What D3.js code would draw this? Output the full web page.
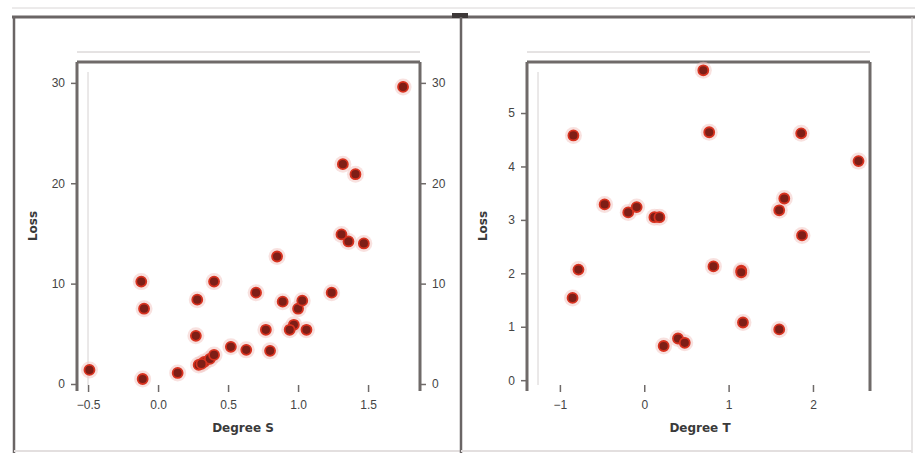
<!DOCTYPE html>
<html>
<head>
<meta charset="utf-8">
<script src="https://cdn.jsdelivr.net/npm/d3@7"></script>
<style>
  html, body { margin: 0; padding: 0; background: #ffffff; }
  svg { display: block; font-family: "DejaVu Sans", sans-serif; }
</style>
</head>
<body>
<svg id="chart" width="915" height="453"></svg>
<script>
// Left panel: Loss against Degree S
const leftX = [-0.49, -0.11, 0.14, -0.12, -0.10, 0.40, 0.28, 0.70, 0.27, 0.29, 0.33, 0.37, 0.40, 0.31,
               0.52, 0.63, 0.80, 0.77, 0.89, 1.00, 1.03, 1.06, 0.97, 0.94, 0.85, 1.36, 1.47, 1.24, 1.31,
               1.41, 1.32, 1.75];
const leftY = [1.4, 0.5, 1.1, 10.2, 7.5, 10.2, 8.4, 9.1, 4.8, 1.9, 2.2, 2.5, 2.9, 2.0,
               3.7, 3.4, 3.3, 5.4, 8.2, 7.5, 8.3, 5.4, 5.9, 5.4, 12.7, 14.2, 14.0, 9.1, 14.9,
               20.9, 21.9, 29.6];
const leftXTicks = [-0.5, 0.0, 0.5, 1.0, 1.5];
const leftYTicks = [0, 10, 20, 30];

// Right panel: Loss against Degree T
const rightX = [-0.84, -0.85, -0.78, -0.47, -0.19, -0.09, 0.12, 0.18, 0.23, 0.40,
                0.48, 0.70, 0.77, 0.82, 1.15, 1.15, 1.17, 1.60, 1.66, 1.60, 1.86, 1.87, 2.54];
const rightY = [4.58, 1.54, 2.07, 3.29, 3.14, 3.24, 3.05, 3.05, 0.64, 0.78,
                0.70, 5.80, 4.64, 2.13, 2.05, 2.02, 1.08, 3.18, 3.40, 0.95, 4.62, 2.71, 4.10];
const rightXTicks = [-1, 0, 1, 2];
const rightYTicks = [0, 1, 2, 3, 4, 5];

const panels = [
  { xs: leftX, ys: leftY, xTicks: leftXTicks, yTicks: leftYTicks,
    xDomain: [-0.579, 1.871], yDomain: [-0.1, 32.08],
    x0: 77, x1: 420, y0: 62, y1: 385, frameX: 14, frameW: 447,
    xTitle: "Degree S", yTitle: "Loss", mirror: true, titleX: 243, titleY: 226,
    xFmt: d3.format(".1f"), yFmt: d3.format("d") },
  { xs: rightX, ys: rightY, xTicks: rightXTicks, yTicks: rightYTicks,
    xDomain: [-1.39, 2.676], yDomain: [-0.09, 5.955],
    x0: 527, x1: 870, y0: 62, y1: 385, frameX: 461, frameW: 451,
    xTitle: "Degree T", yTitle: "Loss", mirror: false, titleX: 700, titleY: 226,
    xFmt: d3.format("d"), yFmt: d3.format("d") }
];

const svg = d3.select("#chart");
const axisGrey = "#6f6a69";

// outer frame and top rule
svg.append("line").attr("x1", 12).attr("x2", 915).attr("y1", 8).attr("y2", 8)
  .attr("stroke", "#d9d6d6").attr("stroke-width", 1);
svg.append("line").attr("x1", 12).attr("x2", 915).attr("y1", 17).attr("y2", 17)
  .attr("stroke", "#6a6565").attr("stroke-width", 3);
svg.append("rect").attr("x", 452).attr("y", 13).attr("width", 16).attr("height", 5).attr("fill", "#3d3838");

panels.forEach(p => {
  const g = svg.append("g");
  // panel borders
  g.append("line").attr("x1", p.frameX).attr("x2", p.frameX).attr("y1", 17).attr("y2", 453)
    .attr("stroke", "#6a6565").attr("stroke-width", 2.5);
  g.append("line").attr("x1", p.frameX + p.frameW).attr("x2", p.frameX + p.frameW).attr("y1", 17).attr("y2", 453)
    .attr("stroke", "#cfcbcb").attr("stroke-width", 1);
  g.append("line").attr("x1", p.frameX).attr("x2", p.frameX + p.frameW).attr("y1", 451).attr("y2", 451)
    .attr("stroke", "#e3dfdf").attr("stroke-width", 2);

  const x = d3.scaleLinear().domain(p.xDomain).range([p.x0, p.x1]);
  const y = d3.scaleLinear().domain(p.yDomain).range([p.y1, p.y0]);

  // top double rule
  g.append("line").attr("x1", p.x0).attr("x2", p.x1).attr("y1", p.y0 - 10).attr("y2", p.y0 - 10)
    .attr("stroke", "#cbc6c6").attr("stroke-width", 1);
  g.append("line").attr("x1", p.x0).attr("x2", p.x1).attr("y1", p.y0).attr("y2", p.y0)
    .attr("stroke", axisGrey).attr("stroke-width", 3);

  // left axis
  const yAxis = d3.axisLeft(y).tickValues(p.yTicks).tickFormat(p.yFmt).tickSize(6).tickPadding(6);
  const ya = g.append("g").attr("transform", `translate(${p.x0},0)`).call(yAxis);
  ya.select(".domain").remove();
  g.append("line").attr("x1", p.x0).attr("x2", p.x0).attr("y1", p.y0).attr("y2", p.y1 + 6)
    .attr("stroke", axisGrey).attr("stroke-width", 3);
  g.append("line").attr("x1", p.x0 + 11).attr("x2", p.x0 + 11).attr("y1", p.y0 + 10).attr("y2", p.y1)
    .attr("stroke", "#d6d2d2").attr("stroke-width", 1);

  // right axis
  g.append("line").attr("x1", p.x1).attr("x2", p.x1).attr("y1", p.y0).attr("y2", p.y1 + 6)
    .attr("stroke", axisGrey).attr("stroke-width", 3);
  let yr = null;
  if (p.mirror) {
    yr = g.append("g").attr("transform", `translate(${p.x1},0)`)
      .call(d3.axisRight(y).tickValues(p.yTicks).tickFormat(p.yFmt).tickSize(6).tickPadding(6));
    yr.select(".domain").remove();
  }

  // bottom axis (ticks only)
  const xa = g.append("g").attr("transform", `translate(0,${p.y1})`)
    .call(d3.axisBottom(x).tickValues(p.xTicks).tickFormat(p.xFmt).tickSize(7).tickPadding(8));
  xa.select(".domain").remove();

  [ya, xa, yr].filter(Boolean).forEach(a => {
    a.selectAll(".tick line").attr("stroke", axisGrey).attr("stroke-width", 1.5);
    a.selectAll("text").attr("fill", "#444").attr("font-size", 12);
  });

  // axis titles
  g.append("text").attr("x", p.titleX).attr("y", 432)
    .attr("text-anchor", "middle").attr("font-size", 12).attr("font-weight", "bold")
    .attr("fill", "#3a3a3a").text(p.xTitle);
  g.append("text").attr("transform", `translate(${p.x0 - 40},${p.titleY}) rotate(-90)`)
    .attr("text-anchor", "middle").attr("font-size", 12).attr("font-weight", "bold")
    .attr("fill", "#3a3a3a").text(p.yTitle);

  // points
  const pts = p.xs.map((v, i) => [v, p.ys[i]]);
  g.append("g").selectAll("circle.halo").data(pts).join("circle")
    .attr("class", "halo")
    .attr("cx", d => x(d[0])).attr("cy", d => y(d[1])).attr("r", 8.5)
    .attr("fill", "#f3c9c4").attr("opacity", 0.55);
  g.append("g").selectAll("circle.dot").data(pts).join("circle")
    .attr("class", "dot")
    .attr("cx", d => x(d[0])).attr("cy", d => y(d[1])).attr("r", 5)
    .attr("fill", "#7e1e16").attr("stroke", "#d8321f").attr("stroke-width", 1.8);
});
</script>
</body>
</html>
